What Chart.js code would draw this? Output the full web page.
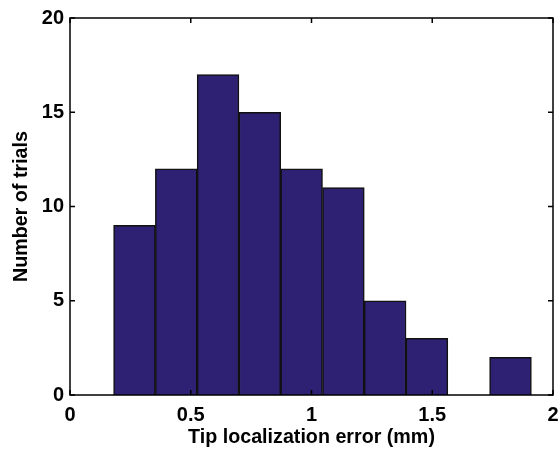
<!DOCTYPE html>
<html>
<head>
<meta charset="utf-8">
<script src="https://cdn.jsdelivr.net/npm/chart.js@4/dist/chart.umd.min.js"></script>
<style>
  html, body { margin: 0; padding: 0; background: #fff; }
  #wrap { width: 560px; height: 449px; }
</style>
</head>
<body>
<div id="wrap"><canvas id="hist"></canvas></div>
<script>
// histogram bins (centre of each bin, mm) and counts
const binCenters = [0.267, 0.440, 0.613, 0.786, 0.959, 1.132, 1.305, 1.478, 1.651, 1.824];
const counts = [9, 12, 17, 15, 12, 11, 5, 3, 0, 2];
const xTicks = [0, 0.5, 1, 1.5, 2];
const yTicks = [0, 5, 10, 15, 20];

const FONT = "'Liberation Sans', Arial, Helvetica, sans-serif";

// matlab style box with inward ticks
const boxPlugin = {
    id: 'box',
    afterDraw(chart) {
        const ctx = chart.ctx;
        const a = chart.chartArea;
        const x = chart.scales.x;
        const y = chart.scales.y;
        const len = 5;
        ctx.save();
        ctx.strokeStyle = '#000';
        ctx.lineWidth = 1.5;
        ctx.strokeRect(a.left, a.top, a.right - a.left, a.bottom - a.top);
        ctx.beginPath();
        xTicks.forEach(v => {
            const px = x.getPixelForValue(v);
            ctx.moveTo(px, a.bottom); ctx.lineTo(px, a.bottom - len);
            ctx.moveTo(px, a.top); ctx.lineTo(px, a.top + len);
        });
        yTicks.forEach(v => {
            const py = y.getPixelForValue(v);
            ctx.moveTo(a.left, py); ctx.lineTo(a.left + len, py);
            ctx.moveTo(a.right, py); ctx.lineTo(a.right - len, py);
        });
        ctx.stroke();
        ctx.restore();
    }
};

new Chart(document.getElementById('hist'), {
    type: 'bar',
    data: {
        datasets: [{
            data: binCenters.map((c, i) => ({ x: c, y: counts[i] })),
            backgroundColor: '#2e2173',
            borderColor: '#111',
            borderWidth: 1.5,
            barPercentage: 1,
            categoryPercentage: 1
        }]
    },
    options: {
        responsive: true,
        maintainAspectRatio: false,
        animation: false,
        layout: { padding: { top: 17, right: 7, left: 0, bottom: 0 } },
        plugins: { legend: { display: false }, tooltip: { enabled: false } },
        scales: {
            x: {
                type: 'linear',
                min: 0, max: 2,
                offset: false,
                afterBuildTicks: s => { s.ticks = xTicks.map(v => ({ value: v })); },
                afterFit: s => { s.height = 54; s.paddingRight = 0; s.paddingLeft = 0; },
                grid: { display: false, drawTicks: false },
                border: { display: false },
                ticks: {
                    color: '#000',
                    padding: 8,
                    maxRotation: 0,
                    callback: v => String(v),
                    font: { family: FONT, size: 20, weight: 'bold' }
                },
                title: {
                    display: true,
                    text: 'Tip localization error (mm)',
                    color: '#000',
                    padding: { top: 0, bottom: 0 },
                    font: { family: FONT, size: 19.7, weight: 'bold' }
                }
            },
            y: {
                min: 0, max: 20,
                afterBuildTicks: s => { s.ticks = yTicks.map(v => ({ value: v })); },
                afterFit: s => { s.width = 70; },
                grid: { display: false, drawTicks: false },
                border: { display: false },
                ticks: {
                    color: '#000',
                    padding: 6,
                    callback: v => String(v),
                    font: { family: FONT, size: 20, weight: 'bold' }
                },
                title: {
                    display: true,
                    text: 'Number of trials',
                    color: '#000',
                    padding: { top: 10, bottom: 0 },
                    font: { family: FONT, size: 19.7, weight: 'bold' }
                }
            }
        }
    },
    plugins: [boxPlugin]
});
</script>
</body>
</html>
